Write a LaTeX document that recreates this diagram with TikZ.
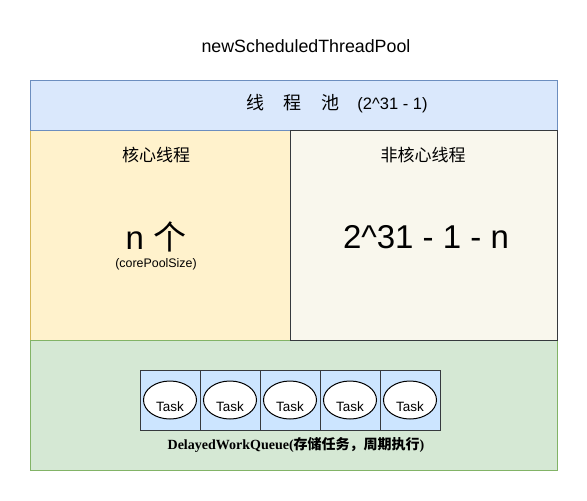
\documentclass[tikz,border=0pt]{standalone}
\usepackage{fontspec}
\setmainfont{Liberation Sans}
\newfontfamily\cjk{Noto Sans CJK SC}
\newfontfamily\timesf{Liberation Serif}
\usetikzlibrary{shapes.geometric}
\definecolor{bluef}{HTML}{DAE8FC}
\definecolor{blues}{HTML}{6C8EBF}
\definecolor{yellowf}{HTML}{FFF2CC}
\definecolor{yellows}{HTML}{D6B656}
\definecolor{greyf}{HTML}{F9F7ED}
\definecolor{greys}{HTML}{36393D}
\definecolor{greenf}{HTML}{D5E8D4}
\definecolor{greens}{HTML}{82B366}
\definecolor{cellf}{HTML}{CCE5FF}
\begin{document}
\begin{tikzpicture}[x=1pt,y=-1pt,
  region/.style={draw, line width=1pt, inner sep=0pt, outer sep=0pt},
  cell/.style={draw=greys, fill=cellf, line width=1pt, minimum width=60pt, minimum height=60pt, inner sep=0pt, outer sep=0pt},
  taskell/.style={ellipse, draw=black, fill=white, line width=1pt, minimum width=53pt, minimum height=38pt, inner sep=0pt},
  lbl/.style={inner sep=0pt, anchor=center, text=black},
  tasklbl/.style={lbl, font=\fontsize{13.5}{15}\selectfont}]
\useasboundingbox (0,0) rectangle (587,501);
\fill[white] (0,0) rectangle (587,501);
% regions
\node[region, fill=yellowf, draw=yellows, minimum width=260pt, minimum height=210pt] (core) at (160,235) {};
\node[region, fill=greenf, draw=greens, minimum width=527pt, minimum height=130pt] (queue) at (293.5,405) {};
\node[region, fill=bluef, draw=blues, minimum width=527pt, minimum height=50pt] (pool) at (293.5,105) {};
\node[region, fill=greyf, draw=greys, minimum width=267pt, minimum height=210pt] (noncore) at (423.5,235) {};
% texts
\node[lbl, font=\fontsize{17.8}{20}\selectfont] (title) at (306,46) {newScheduledThreadPool};
\node[lbl, font=\fontsize{16.5}{18}\selectfont] (pooltxt) at (337,103.5) {{\fontsize{18}{20}\selectfont\cjk 线\hspace{19.5pt}程\hspace{19.5pt}池}\hspace{18pt}(2\^{}31 - 1)};
\node[lbl, font=\fontsize{17}{19}\selectfont] (coretxt) at (156,155) {\cjk 核心线程};
\node[lbl, font=\fontsize{17}{19}\selectfont] (noncoretxt) at (423,155) {\cjk 非核心线程};
\node[lbl, font=\fontsize{33}{36}\selectfont] (ncount) at (156,237) {n {\cjk 个}};
\node[lbl, font=\fontsize{12.4}{14}\selectfont] (cps) at (156,264) {(corePoolSize)};
\node[lbl, font=\fontsize{33}{36}\selectfont] (nccount) at (426,237) {2\^{}31 - 1 - n};
% task cells
\foreach \i in {0,...,4} {
  \node[cell] (c\i) at ({170+60*\i},400) {};
  \node[taskell] (e\i) at ({170+60*\i},400) {};
  \node[tasklbl] (t\i) at ({170+60*\i},406.5) {Task};
}
\node[lbl, font=\fontsize{14}{16}\selectfont\bfseries] (qtxt) at (296,445) {{\timesf DelayedWorkQueue(}{\cjk 存储任务，周期执行}{\timesf )}};
\end{tikzpicture}
\end{document}
